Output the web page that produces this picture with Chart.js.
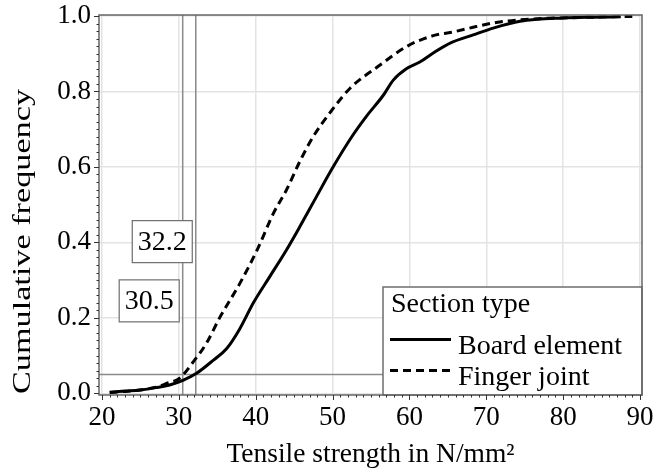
<!DOCTYPE html>
<html><head><meta charset="utf-8">
<script src="https://cdn.jsdelivr.net/npm/chart.js@4.4.1/dist/chart.umd.min.js"></script>
<style>html,body{margin:0;padding:0;background:#fff;} #wrap{width:655px;height:471px;}</style>
</head><body><div id="wrap"><canvas id="c" width="655" height="471"></canvas></div>
<script>
// ---- data ----
const seriesNames = ['Board element', 'Finger joint'];
const boardX = [21, 23, 25, 27, 28.8, 30.6, 32.3, 34.5, 36.2, 37.9, 39.7, 41.85, 44, 45.75, 47.6, 50.1, 52.5, 54.4, 56.6, 57.9, 59.6, 61.35, 63.1, 65.5, 68.3, 70.9, 74.4, 80, 84, 87.5];
const boardY = [0.003, 0.006, 0.009, 0.015, 0.022, 0.035, 0.053, 0.088, 0.118, 0.17, 0.24, 0.31, 0.38, 0.442, 0.51, 0.601, 0.68, 0.734, 0.79, 0.83, 0.86, 0.878, 0.902, 0.93, 0.95, 0.968, 0.986, 0.995, 0.997, 0.998];
const fingerX = [21, 23, 25, 27, 28.4, 30.1, 31.9, 33.6, 35.3, 37.9, 40.3, 42.3, 44, 45.85, 47.5, 49.6, 52.25, 55.9, 59.8, 63.1, 65.5, 68.7, 71.3, 74.4, 78, 82, 86, 89];
const fingerY = [0.002, 0.005, 0.009, 0.016, 0.026, 0.04, 0.084, 0.133, 0.2, 0.29, 0.385, 0.477, 0.539, 0.619, 0.681, 0.742, 0.808, 0.866, 0.921, 0.948, 0.957, 0.972, 0.983, 0.99, 0.994, 0.996, 0.998, 0.999];
const xTicks = [20, 30, 40, 50, 60, 70, 80, 90];
const xTickLabels = ['20', '30', '40', '50', '60', '70', '80', '90'];
const yTicks = [0, 0.2, 0.4, 0.6, 0.8, 1.0];
const yTickLabels = ['0.0', '0.2', '0.4', '0.6', '0.8', '1.0'];
const refX = [30.5, 32.2];
const refXLabels = ['30.5', '32.2'];
const refY = [0.05];
const legendTitle = 'Section type';
const xTitle = 'Tensile strength in N/mm²';
const yTitle = 'Cumulative frequency';

// ---- style / layout ----
const FONT = '"Liberation Serif", "Times New Roman", Times, serif';
const TICK_SIZE = 27;
const TEXT_SIZE = 28;
const LABEL_ANCHOR_Y = [0.245, 0.402]; // vertical anchor (data units) of the label boxes

const overlay = {
  id: 'overlay',
  beforeDatasetsDraw(chart) {
    const {ctx, chartArea: a, scales: {x, y}} = chart;
    ctx.save();
    ctx.beginPath(); ctx.rect(a.left, a.top, a.right - a.left, a.bottom - a.top); ctx.clip();
    ctx.strokeStyle = '#8a8a8a'; ctx.lineWidth = 1.5;
    refX.forEach(v => { const px = x.getPixelForValue(v); ctx.beginPath(); ctx.moveTo(px, a.top); ctx.lineTo(px, a.bottom); ctx.stroke(); });
    refY.forEach(v => { const py = y.getPixelForValue(v); ctx.beginPath(); ctx.moveTo(a.left, py); ctx.lineTo(a.right, py); ctx.stroke(); });
    ctx.restore();
  },
  afterDraw(chart) {
    const {ctx, chartArea: a, scales: {x, y}} = chart;
    ctx.save();
    // label boxes next to reference lines
    ctx.font = TEXT_SIZE + 'px ' + FONT;
    ctx.textAlign = 'center'; ctx.textBaseline = 'middle';
    refX.forEach((v, i) => {
      const px = x.getPixelForValue(v);
      const cy = y.getPixelForValue(LABEL_ANCHOR_Y[i]);
      const w = 60, h = 42;
      const r = px - 3.5, l = r - w, t = cy - h / 2;
      ctx.fillStyle = '#fff'; ctx.fillRect(l, t, w, h);
      ctx.strokeStyle = '#6e6e6e'; ctx.lineWidth = 1.2; ctx.strokeRect(l, t, w, h);
      ctx.fillStyle = '#000'; ctx.fillText(refXLabels[i], l + w / 2, cy + 1);
    });
    // legend
    const lw = 259, lh = 108;
    const lx = a.right - lw, ly = a.bottom - lh;
    ctx.fillStyle = '#fff'; ctx.fillRect(lx, ly, lw, lh);
    ctx.strokeStyle = '#6e6e6e'; ctx.lineWidth = 1.5; ctx.strokeRect(lx, ly, lw, lh);
    ctx.fillStyle = '#000'; ctx.textAlign = 'left'; ctx.textBaseline = 'alphabetic';
    ctx.font = TEXT_SIZE + 'px ' + FONT;
    ctx.fillText(legendTitle, lx + 8, ly + 25);
    chart.data.datasets.forEach((ds, i) => {
      const base = ly + 67 + i * 31;
      const lineY = base - 14.5;
      ctx.strokeStyle = ds.borderColor; ctx.lineWidth = 3;
      ctx.setLineDash(ds.borderDash || []);
      ctx.beginPath(); ctx.moveTo(lx + 7, lineY); ctx.lineTo(lx + 68, lineY); ctx.stroke();
      ctx.setLineDash([]);
      ctx.fillText(ds.label, lx + 75, base);
    });
    // frame
    ctx.strokeStyle = '#666'; ctx.lineWidth = 1.5;
    ctx.strokeRect(a.left, a.top, a.right - a.left, a.bottom - a.top);
    // ticks
    ctx.strokeStyle = '#333'; ctx.lineWidth = 1;
    for (let k = 0; k <= 70; k++) {
      const v = 20 + k; const px = Math.round(x.getPixelForValue(v)) + 0.5;
      const len = (k % 10 === 0) ? 5 : 2.5;
      ctx.beginPath(); ctx.moveTo(px, a.bottom); ctx.lineTo(px, a.bottom + len); ctx.stroke();
    }
    for (let k = 0; k <= 50; k++) {
      const v = k * 0.02; const py = Math.round(y.getPixelForValue(v)) + 0.5;
      const len = (k % 10 === 0) ? 5 : 2.5;
      ctx.beginPath(); ctx.moveTo(a.left, py); ctx.lineTo(a.left - len, py); ctx.stroke();
    }
    // y axis title (rotated, starting at the bottom of the plot)
    ctx.font = '26px ' + FONT;
    const tw = ctx.measureText(yTitle).width;
    const stretch = (a.bottom - 90) / tw;
    ctx.translate(23, a.bottom - 1);
    ctx.rotate(-Math.PI / 2);
    ctx.scale(stretch, 1);
    ctx.textAlign = 'left'; ctx.textBaseline = 'middle'; ctx.fillStyle = '#000';
    ctx.fillText(yTitle, 0, 0);
    ctx.restore();
  }
};

new Chart(document.getElementById('c'), {
  type: 'line',
  data: {
    datasets: [
      { label: seriesNames[0], data: boardX.map((v, i) => ({x: v, y: boardY[i]})), borderColor: '#000', borderWidth: 3, pointRadius: 0, fill: false, cubicInterpolationMode: 'monotone' },
      { label: seriesNames[1], data: fingerX.map((v, i) => ({x: v, y: fingerY[i]})), borderColor: '#000', borderWidth: 3, borderDash: [8, 5], pointRadius: 0, fill: false, cubicInterpolationMode: 'monotone' }
    ]
  },
  options: {
    responsive: false, animation: false, events: [],
    layout: { padding: { top: 15, right: 13, left: 0, bottom: 0 } },
    plugins: { legend: { display: false }, tooltip: { enabled: false } },
    scales: {
      x: {
        type: 'linear', min: 19.61, max: 90.26,
        afterBuildTicks: s => { s.ticks = xTicks.map(v => ({value: v})); },
        afterFit: s => { s.height = 76; s.paddingLeft = 0; s.paddingRight = 0; },
        ticks: { font: {family: FONT, size: TICK_SIZE}, color: '#000', padding: 7, maxRotation: 0, autoSkip: false,
                 callback: v => xTickLabels[xTicks.indexOf(v)] },
        grid: { color: '#e3e3e3', lineWidth: 1.5, drawTicks: false },
        border: { display: false },
        title: { display: true, text: xTitle, font: {family: FONT, size: 27.5}, color: '#000', padding: {top: 0, bottom: 0} }
      },
      y: {
        type: 'linear', min: -0.0045, max: 1.0027,
        afterBuildTicks: s => { s.ticks = yTicks.map(v => ({value: v})); },
        afterFit: s => { s.width = 99; s.paddingTop = 0; s.paddingBottom = 0; },
        ticks: { font: {family: FONT, size: TICK_SIZE}, color: '#000', padding: 8, autoSkip: false,
                 callback: v => yTickLabels[yTicks.findIndex(t => Math.abs(t - v) < 1e-9)] },
        grid: { color: '#e3e3e3', lineWidth: 1.5, drawTicks: false },
        border: { display: false },
        title: { display: false }
      }
    }
  },
  plugins: [overlay]
});
</script>
</body></html>
